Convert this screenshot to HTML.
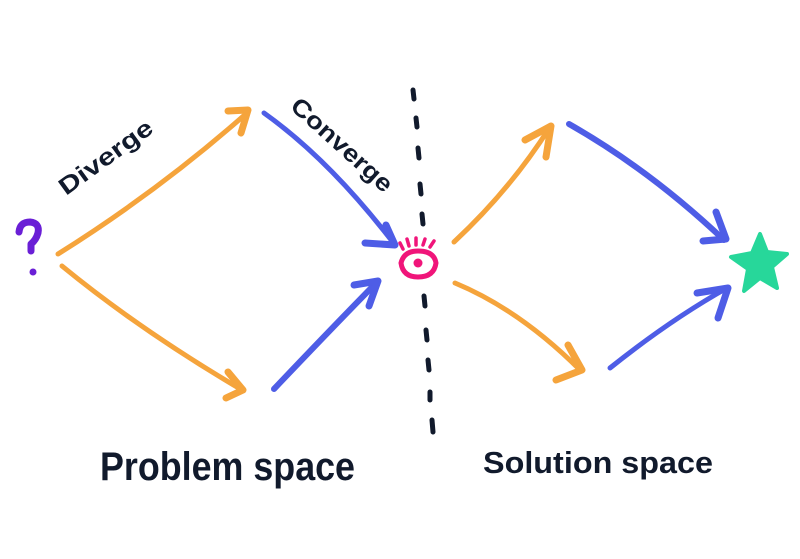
<!DOCTYPE html>
<html><head><style>html,body{margin:0;padding:0;background:#fff;width:800px;height:559px;overflow:hidden}</style></head>
<body>
<svg width="800" height="559" viewBox="0 0 800 559" xmlns="http://www.w3.org/2000/svg">
<g fill="none" stroke-linecap="round" stroke-linejoin="round">
<g stroke="#f5a43c">
<path d="M58 254 Q160 190 248 112" stroke-width="5"/>
<path d="M228 111 L248 110 L241 133" stroke-width="7"/>
<path d="M62 266 Q140 330 242 390" stroke-width="5"/>
<path d="M228 372 L243 390 L226 398" stroke-width="7"/>
<path d="M454 242 Q510 190 550 127" stroke-width="5"/>
<path d="M525 140 L551 126 L546 157" stroke-width="7"/>
<path d="M455 283 Q520 310 580 370" stroke-width="5"/>
<path d="M568 345 L582 370 L556 380" stroke-width="7"/>
</g>
<g stroke="#4e5de6">
<path d="M264 113 Q330 160 395 245" stroke-width="5"/>
<path d="M365 243 L395 245 L386 225" stroke-width="7"/>
<path d="M274 389 Q330 330 378 281" stroke-width="6"/>
<path d="M354 285 L378 281 L369 306" stroke-width="7"/>
<path d="M569 124 Q650 170 724 240" stroke-width="6"/>
<path d="M703 241 L726 239 L716 212" stroke-width="7"/>
<path d="M610 368 Q670 320 727 288" stroke-width="5"/>
<path d="M697 293 L728 288 L718 318" stroke-width="7"/>
</g>
<g stroke="#111a2c" stroke-width="5">
<path d="M413 90 L414 99"/><path d="M416 118 L417 127"/><path d="M418 148 L419 158"/>
<path d="M420 184 L421 194"/><path d="M422 214 L423 224"/>
<path d="M424 296 L425 306"/><path d="M426 330 L427 340"/><path d="M428 360 L429 370"/>
<path d="M430 392 L430 400"/><path d="M432 420 L433 432"/>
</g>
<g stroke="#f0157a">
<path d="M401 263 Q404 251 418 251 Q434 251 436 263 Q434 277 418 277 Q403 277 401 263 Z" stroke-width="5"/>
<path d="M403 249 L400 243 M409 246 L407 239 M416 245 L416 238 M423 245 L425 239 M430 247 L434 241" stroke-width="3.5"/>
</g>
<path d="M19 232 Q20 222 30 222 Q40 223 38 233 Q36 240 31 244 L31 251" stroke="#6a1fd6" stroke-width="7"/>
</g>
<circle cx="418" cy="263" r="4.5" fill="#f0157a"/>
<circle cx="33" cy="272" r="3.5" fill="#6a1fd6"/>
<path d="M760 234 L767 252 L787 254 L772 267 L777 288 L760 278 L744 291 L748 269 L731 257 L752 253 Z" fill="#27d79a" stroke="#27d79a" stroke-width="4" stroke-linejoin="round"/>
<g font-family="'Liberation Sans', sans-serif" font-weight="bold" fill="#111a2c">
<text x="0" y="0" font-size="24" transform="translate(66 196) rotate(-36)" textLength="110" lengthAdjust="spacingAndGlyphs">Diverge</text>
<text x="0" y="0" font-size="24" transform="translate(289 108) rotate(42)" textLength="128" lengthAdjust="spacingAndGlyphs">Converge</text>
<text x="100" y="480" font-size="40" textLength="255" lengthAdjust="spacingAndGlyphs">Problem space</text>
<text x="483" y="473" font-size="31" textLength="230" lengthAdjust="spacingAndGlyphs">Solution space</text>
</g>
</svg>
</body></html>
